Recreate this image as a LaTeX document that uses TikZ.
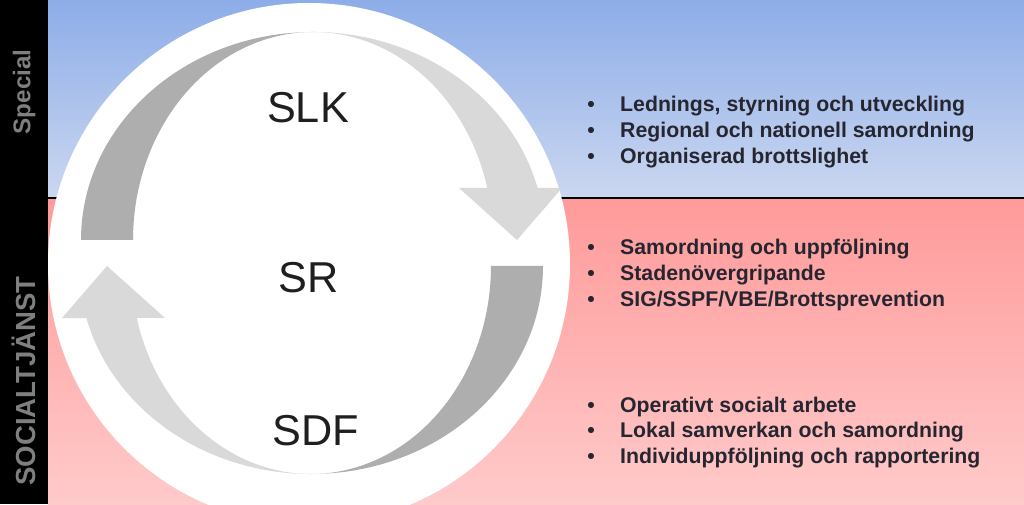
\documentclass[tikz,border=0pt]{standalone}
\usepackage{fontspec}
\setmainfont{Liberation Sans}
\usepackage{tikz}
\definecolor{bluetop}{HTML}{8DADE8}
\definecolor{bluebot}{HTML}{CBD7F0}
\definecolor{pinktop}{HTML}{FF9A9A}
\definecolor{pinkbot}{HTML}{FFCACA}
\definecolor{arcdark}{HTML}{AEAEAE}
\definecolor{arclight}{HTML}{D9D9D9}
\definecolor{itemtext}{HTML}{262630}
\definecolor{labeltext}{HTML}{1F1F1F}
\definecolor{sidegray}{HTML}{7F7F7F}
\pgfdeclarehorizontalshading{arcfwd}{100bp}{color(0bp)=(arcdark); color(46bp)=(arcdark); color(52bp)=(arclight); color(100bp)=(arclight)}
\pgfdeclarehorizontalshading{arcbwd}{100bp}{color(0bp)=(arclight); color(48bp)=(arclight); color(54bp)=(arcdark); color(100bp)=(arcdark)}
\newcommand{\bulletitem}[1]{\makebox[18.7pt][l]{•}#1}

\begin{document}
\begin{tikzpicture}[x=0.02cm, y=0.02cm,
    item/.style={anchor=base west, inner sep=0pt, text=itemtext, font=\bfseries\fontsize{12.1}{14}\selectfont},
    circlabel/.style={anchor=base, inner sep=0pt, text=labeltext, font=\fontsize{24.6}{28}\selectfont},
    sidelabel/.style={rotate=90, inner sep=0pt, text=sidegray}]
  \useasboundingbox (0,0) rectangle (1024,504);
  \clip (0,0) rectangle (1024,504);
  % bands
  \shade[top color=bluetop, bottom color=bluebot] (48,306) rectangle (1024,504);
  \shade[top color=pinktop, bottom color=pinkbot] (48,0) rectangle (1024,306);
  \draw[line width=0.8pt] (48,306) -- (1024,306);
  % circle
  \fill[white] (309,240) circle[radius=261];
  % upper arc, head on the right
  \shade[shading=arcfwd] (133,264) -- (81,264)
    arc[start angle=180, end angle=14.48, x radius=232, y radius=208]
    -- (562,316) -- (517,264) -- (459,316) -- (487.3,316)
    arc[start angle=14.48, end angle=180, x radius=180, y radius=208] -- cycle;
  % lower arc, head on the left
  \shade[shading=arcbwd] (491,238) -- (543,238)
    arc[start angle=0, end angle=-165.52, x radius=232, y radius=208]
    -- (62,186) -- (107,238) -- (165,186) -- (136.7,186)
    arc[start angle=-165.52, end angle=0, x radius=180, y radius=208] -- cycle;
  % side bar
  \fill[black] (0,0) rectangle (48,504);
  \node[sidelabel, font=\bfseries\fontsize{13.8}{16}\selectfont] (special) at (24,412) {Special};
  \node[sidelabel, font=\bfseries\fontsize{15.7}{18}\selectfont] (social) at (24,123) {SOCIALTJÄNST};
  % labels in the circle
  \node[circlabel] (slk) at (308,381) {SLK};
  \node[circlabel] (sr) at (309,211) {SR};
  \node[circlabel] (sdf) at (316,59) {SDF};
  % lists
  \foreach \txt [count=\i] in {{Lednings, styrning och utveckling}, {Regional och nationell samordning}, {Organiserad brottslighet}}
    \node[item] (slk\i) at (587,418-26*\i) {\bulletitem{\txt}};
  \foreach \txt [count=\i] in {{Samordning och uppföljning}, {Stadenövergripande}, {SIG/SSPF/VBE/Brottsprevention}}
    \node[item] (sr\i) at (587,275-26*\i) {\bulletitem{\txt}};
  \foreach \txt [count=\i] in {{Operativt socialt arbete}, {Lokal samverkan och samordning}, {Individuppföljning och rapportering}}
    \node[item] (sdf\i) at (587,117.5-25.5*\i) {\bulletitem{\txt}};
\end{tikzpicture}
\end{document}
